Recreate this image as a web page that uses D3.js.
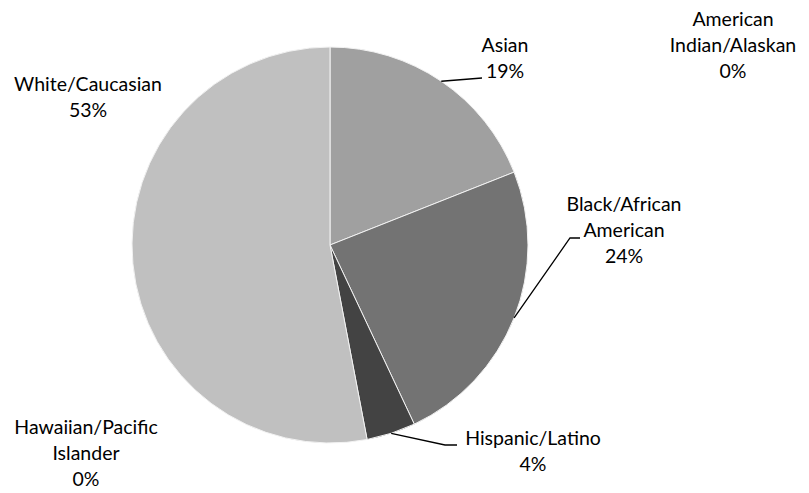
<!DOCTYPE html>
<html>
<head>
<meta charset="utf-8">
<script src="https://cdn.jsdelivr.net/npm/d3@7"></script>
<style>
  html, body { margin: 0; padding: 0; background: #fff; }
  svg { display: block; }
  text { font-family: Lato, "Open Sans", sans-serif; font-size: 19.5px; fill: #000; }
</style>
</head>
<body>
<svg id="chart" width="809" height="493"></svg>
<script>
// Ethnicity breakdown, clockwise from 12 o'clock
const categories = [
  "American Indian/Alaskan",
  "Asian",
  "Black/African American",
  "Hispanic/Latino",
  "Hawaiian/Pacific Islander",
  "White/Caucasian"
];
const values = [0, 19, 24, 4, 0, 53];
const labelLines = [
  ["American", "Indian/Alaskan"],
  ["Asian"],
  ["Black/African", "American"],
  ["Hispanic/Latino"],
  ["Hawaiian/Pacific", "Islander"],
  ["White/Caucasian"]
];
const fills = ["#8c8c8c", "#a0a0a0", "#737373", "#434343", "#d9d9d9", "#c0c0c0"];

// label placement: centre x, first baseline y, optional leader line elbow
const labelLayout = [
  { x: 733, y: 26, leader: null },
  { x: 505, y: 52, leader: [[482, 78]] },
  { x: 624, y: 211, leader: [[570, 238], [580, 238]] },
  { x: 533, y: 445, leader: [[445, 445], [457, 445]] },
  { x: 86, y: 434, leader: null },
  { x: 88, y: 91, leader: null }
];
const lineHeight = 26;

const svg = d3.select("#chart");
const cx = 330, cy = 245, r = 198;
const g = svg.append("g").attr("transform", `translate(${cx},${cy})`);

const pie = d3.pie().sort(null).value(d => d);
const arcs = pie(values);
const arc = d3.arc().innerRadius(0).outerRadius(r);

g.selectAll("path.slice")
  .data(arcs)
  .join("path")
  .attr("class", "slice")
  .attr("d", arc)
  .attr("fill", (d, i) => fills[i])
  .attr("stroke", "#f2f2f2")
  .attr("stroke-width", d => d.endAngle - d.startAngle > 0 ? 1 : 0);

// leader lines from the slice edge at its mid angle
arcs.forEach((d, i) => {
  const lay = labelLayout[i];
  if (!lay.leader) return;
  const mid = (d.startAngle + d.endAngle) / 2;
  const start = [cx + r * Math.sin(mid), cy - r * Math.cos(mid)];
  const pts = [start, ...lay.leader];
  svg.append("path")
    .attr("d", d3.line()(pts))
    .attr("fill", "none")
    .attr("stroke", "#000")
    .attr("stroke-width", 1.3);
});

// labels
arcs.forEach((d, i) => {
  const lay = labelLayout[i];
  const lines = [...labelLines[i], d3.format(".0f")(d.value) + "%"];
  const t = svg.append("text")
    .attr("text-anchor", "middle")
    .attr("x", lay.x)
    .attr("y", lay.y);
  lines.forEach((s, k) => {
    t.append("tspan")
      .attr("x", lay.x)
      .attr("dy", k === 0 ? 0 : lineHeight)
      .text(s);
  });
});
</script>
</body>
</html>
